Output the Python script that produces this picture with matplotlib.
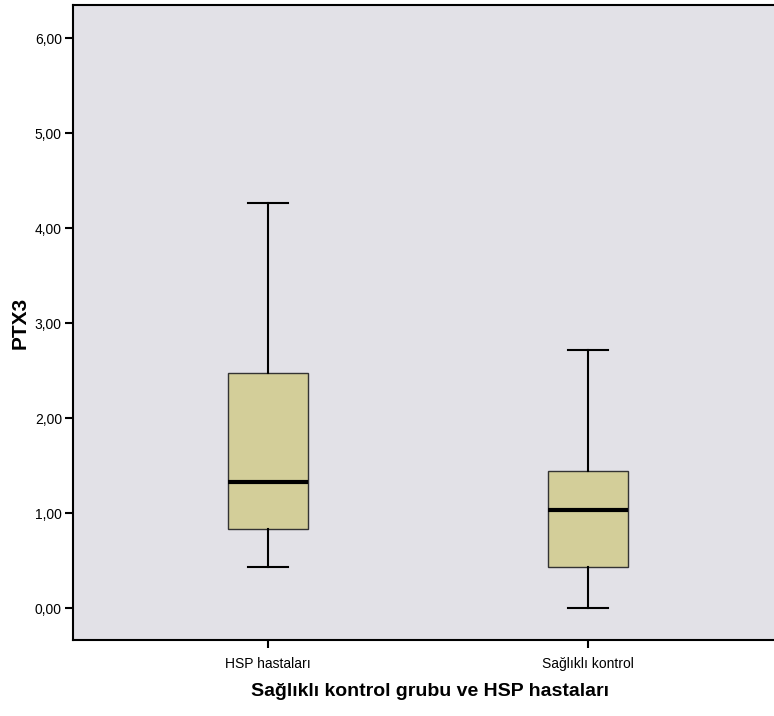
import matplotlib
matplotlib.use("Agg")
import matplotlib.pyplot as plt

# Data
groups = ["HSP hastaları", "Sağlıklı kontrol"]
whislo = [0.43, 0.00]
q1 = [0.835, 0.43]
med = [1.33, 1.035]
q3 = [2.475, 1.44]
whishi = [4.27, 2.72]
yticks = [0, 1, 2, 3, 4, 5, 6]

BG = "#E2E1E7"
BOX = "#D3CE99"

plt.rcParams["font.family"] = ["Liberation Sans", "DejaVu Sans"]

fig = plt.figure(figsize=(7.74, 7.16), dpi=100)
ax = fig.add_axes([73 / 774, 76 / 716, 701 / 774, 635 / 716])
ax.set_facecolor(BG)

stats = [dict(label=g, whislo=lo, q1=a, med=m, q3=b, whishi=hi, fliers=[])
         for g, lo, a, m, b, hi in zip(groups, whislo, q1, med, q3, whishi)]
ax.bxp(stats, positions=[1, 2], widths=0.25, patch_artist=True,
       showfliers=False,
       boxprops=dict(facecolor=BOX, edgecolor="#333333", linewidth=1.0),
       medianprops=dict(color="black", linewidth=3),
       whiskerprops=dict(color="black", linewidth=1.5),
       capprops=dict(color="black", linewidth=1.5),
       capwidths=0.125)

ax.set_xlim(0.39, 2.58)
ax.set_ylim(-0.334, 6.35)
ax.set_yticks(yticks)
ax.set_yticklabels([f"{v:.2f}".replace(".", ",") for v in yticks], fontsize=10)
ax.set_xticks([1, 2])
ax.set_xticklabels(groups, fontsize=10)
ax.tick_params(axis="both", direction="out", length=6, width=1.5, color="black")
ax.tick_params(axis="x", pad=6)
ax.tick_params(axis="y", pad=2)
for s in ax.spines.values():
    s.set_linewidth(1.5)
    s.set_color("black")
ax.spines["right"].set_visible(False)

ax.set_ylabel("PTX3", fontsize=15, fontweight="bold", va="center")
ax.yaxis.set_label_coords((20 - 73) / 701, 0.5)
ax.set_xlabel("Sağlıklı kontrol grubu ve HSP hastaları", fontsize=14,
              fontweight="bold", va="center")
ax.xaxis.set_label_coords((430 - 73) / 701, (640 - 692) / 635)

fig.savefig("out.png", dpi=100, facecolor="white")
